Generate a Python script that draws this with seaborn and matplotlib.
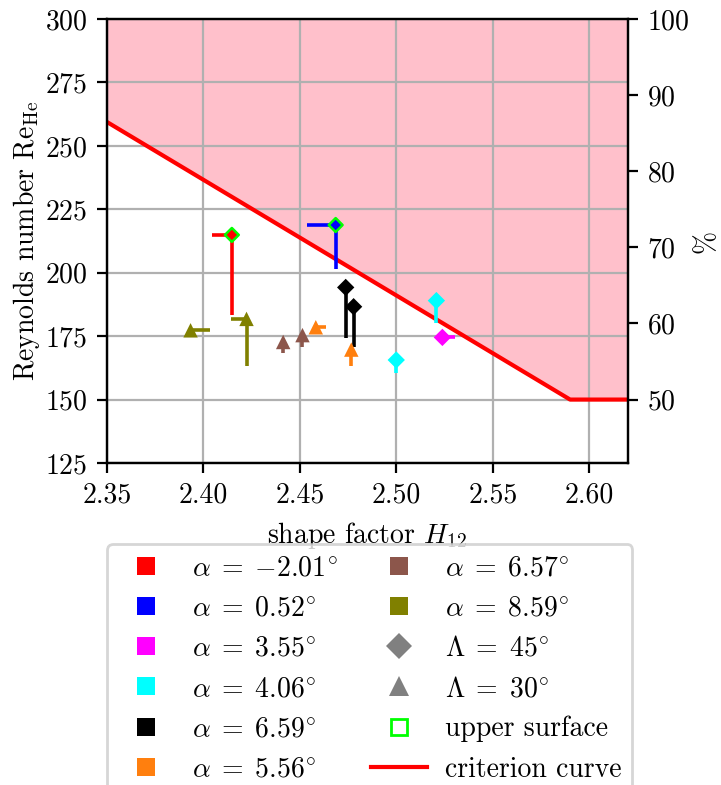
import numpy as np
import pandas as pd
import matplotlib
matplotlib.use("Agg")
import matplotlib.pyplot as plt
import seaborn as sns
from matplotlib.lines import Line2D
from matplotlib.ticker import StrMethodFormatter, MultipleLocator

plt.rcParams.update({
    "font.family": "serif",
    "font.serif": ["cmr10"],
    "mathtext.fontset": "cm",
    "axes.formatter.use_mathtext": True,
    "font.size": 10,
    "axes.unicode_minus": True,
})

# angle-of-attack cases and their colours
alpha_values = ["-2.01", "0.52", "3.55", "4.06", "6.59", "5.56", "6.57", "8.59"]
alpha_colors = ["red", "blue", "magenta", "cyan", "black", "#ff7f0e", "#8c564b", "#808000"]

# measured transition points
pt_alpha = ["-2.01", "0.52", "3.55", "4.06", "4.06", "6.59", "6.59",
            "5.56", "5.56", "6.57", "6.57", "8.59", "8.59"]
pt_sweep = [45, 45, 45, 45, 45, 45, 45, 30, 30, 30, 30, 30, 30]
pt_upper = [True, True, False, False, False, False, False,
            False, False, False, False, False, False]
pt_H = [2.4147, 2.4685, 2.5238, 2.5207, 2.4999, 2.4737, 2.4778,
        2.4582, 2.4766, 2.4413, 2.4513, 2.3933, 2.4223]
pt_Re = [214.9, 218.8, 174.5, 189.0, 165.6, 194.2, 186.6,
         178.5, 169.7, 172.7, 175.4, 177.3, 181.8]
# end points of the shift bars (nan = no bar)
pt_H_end = [2.4042, 2.4534, 2.5306, np.nan, np.nan, np.nan, np.nan,
            2.4634, np.nan, np.nan, np.nan, 2.4033, 2.4145]
pt_Re_end = [183.3, 201.3, np.nan, 180.0, 160.3, 174.1, 170.8,
             np.nan, 163.2, 168.2, 170.8, np.nan, 163.2]

# criterion curve
crit_H = [2.35, 2.59, 2.62]
crit_Re = [259.4, 150.0, 150.0]

df = pd.DataFrame({
    "alpha": pt_alpha, "sweep": pt_sweep, "upper": pt_upper,
    "H": pt_H, "Re": pt_Re, "H_end": pt_H_end, "Re_end": pt_Re_end,
})
palette = dict(zip(alpha_values, alpha_colors))

fig = plt.figure(figsize=(7.21 / 2, 7.85 / 2), dpi=200)
ax = fig.add_axes([107 / 721, 1 - 463 / 785, (628 - 107) / 721, (463 - 19) / 785])

ax.fill_between(crit_H, crit_Re, 300, color="pink", lw=0, zorder=1)
sns.lineplot(x=crit_H, y=crit_Re, sort=False, estimator=None, color="red",
             lw=1.5, ax=ax, zorder=2)

# shift bars
for _, r in df.iterrows():
    c = palette[r["alpha"]]
    if not np.isnan(r["H_end"]):
        ax.plot([r["H"], r["H_end"]], [r["Re"], r["Re"]], color=c, lw=1.3,
                solid_capstyle="butt", zorder=3)
    if not np.isnan(r["Re_end"]):
        ax.plot([r["H"], r["H"]], [r["Re"], r["Re_end"]], color=c, lw=1.3,
                solid_capstyle="butt", zorder=3)

markers = {45: "D", 30: "^"}
sizes = {45: 19.5, 30: 27}
lower = df[~df["upper"]]
for sw in (45, 30):
    sub = lower[lower["sweep"] == sw]
    sns.scatterplot(data=sub, x="H", y="Re", hue="alpha", palette=palette,
                    marker=markers[sw], s=sizes[sw], linewidth=0,
                    legend=False, ax=ax, zorder=4)
up = df[df["upper"]]
sns.scatterplot(data=up, x="H", y="Re", hue="alpha", palette=palette,
                marker="D", s=12.5, edgecolor="lime", linewidth=0.9,
                legend=False, ax=ax, zorder=5)

ax.set_xlim(2.35, 2.62)
ax.set_ylim(125, 300)
ax.xaxis.set_major_locator(MultipleLocator(0.05))
ax.xaxis.set_major_formatter(StrMethodFormatter("{x:.2f}"))
ax.yaxis.set_major_locator(MultipleLocator(25))
ax.grid(True, color="#b0b0b0", lw=0.8)
ax.set_xlabel(r"shape factor $H_{12}$")
ax.set_ylabel(r"Reynolds number $\mathrm{Re}_{\mathrm{He}}$", labelpad=1)

ax2 = ax.twinx()
ax2.set_ylim(50 + (125 - 150) / 3, 100)
ax2.set_yticks([50, 60, 70, 80, 90, 100])
ax2.set_ylabel("%", labelpad=1)

handles = []
labels = []
for a, c in zip(alpha_values, alpha_colors):
    handles.append(Line2D([], [], ls="none", marker="s", ms=6.7, mew=0, color=c))
    labels.append(r"$\alpha\;=\;{%s}^{\!\circ}$" % a)
handles += [
    Line2D([], [], ls="none", marker="D", ms=6.4, mew=0, color="gray"),
    Line2D([], [], ls="none", marker="^", ms=7.2, mew=0, color="gray"),
    Line2D([], [], ls="none", marker="s", ms=6, mew=1, mfc="none", mec="lime"),
    Line2D([], [], color="red", lw=1.5),
]
labels += [r"$\Lambda\;=\;45^{\!\circ}$", r"$\Lambda\;=\;30^{\!\circ}$",
           "upper surface", "criterion curve"]
fig.legend(handles, labels, ncol=2, loc="upper left",
           bbox_to_anchor=(107 / 721, 1 - 544 / 785), borderaxespad=0,
           handletextpad=0.65, columnspacing=1.2)

fig.savefig("out.png", dpi=200)
